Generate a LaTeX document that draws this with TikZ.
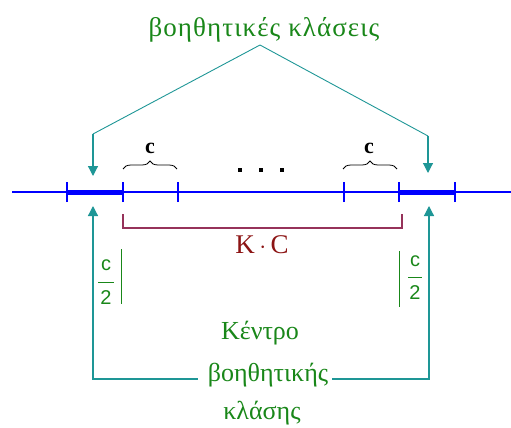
\documentclass[tikz,border=0pt]{standalone}
\usepackage{fontspec}
\setmainfont{Liberation Serif}
\newfontfamily\fracfont{Liberation Sans}
\usetikzlibrary{arrows.meta,decorations.pathreplacing}
\definecolor{tealc}{RGB}{30,150,150}
\definecolor{greenc}{RGB}{25,135,25}
\definecolor{axisblue}{RGB}{0,0,255}
\definecolor{maroonline}{RGB}{150,50,90}
\definecolor{maroontext}{RGB}{140,20,20}
\tikzset{
  lbl/.style={inner sep=0pt, text=greenc, font=\fontsize{26}{28}\selectfont},
  conn/.style={draw=tealc, line width=1.2pt},
  arr/.style={conn, -{Triangle[length=10pt,width=10pt]}},
  tick/.style={draw=axisblue, line width=1.5pt},
  seg/.style={draw=axisblue, line width=5pt},
  frac/.style={inner sep=0pt, text=greenc, font=\fracfont\fontsize{20}{22}\selectfont},
  cl/.style={inner sep=0pt, font=\bfseries\fontsize{22}{24}\selectfont},
  dotc/.style={fill=black, minimum size=4pt, inner sep=0pt},
}
\begin{document}
\begin{tikzpicture}[x=1pt,y=-1pt]
\useasboundingbox (0,0) rectangle (511,428);
% title
\node[lbl, font=\fontsize{27}{29}\selectfont\addfontfeatures{LetterSpace=4}] (title) at (264,30) {βοηθητικές κλάσεις};
\coordinate (apex) at (260,45);
\coordinate (lt) at (93,134);
\coordinate (ltip) at (93,176);
\coordinate (rt) at (428,136);
\coordinate (rtip) at (428,173);
\draw[conn, line width=0.9pt] (apex) -- (lt);
\draw[conn, line width=0.9pt] (apex) -- (rt);
\draw[arr] (lt) -- (ltip);
\draw[arr] (rt) -- (rtip);
% axis
\coordinate (a0) at (12,192);
\coordinate (a1) at (511,192);
\draw[draw=axisblue, line width=1.2pt] (a0) -- (a1);
\coordinate (t1) at (67,192);
\coordinate (t2) at (123,192);
\coordinate (t3) at (178,192);
\coordinate (t4) at (344,192);
\coordinate (t5) at (399,192);
\coordinate (t6) at (455,192);
\draw[seg] (t1) -- (t2);
\draw[seg] (t5) -- (t6);
\foreach \t in {t1,t2,t3,t4,t5,t6}
  \draw[tick] ([yshift=-10pt]\t) -- ([yshift=10pt]\t);
% braces
\coordinate (b1) at (123,169);
\coordinate (b2) at (177,169);
\coordinate (b3) at (343,169);
\coordinate (b4) at (397,169);
\draw[decorate, decoration={brace, amplitude=8pt}, line width=0.8pt] (b1) -- (b2);
\draw[decorate, decoration={brace, amplitude=8pt}, line width=0.8pt] (b3) -- (b4);
\node[cl] (c1) at (150,148) {c};
\node[cl] (c2) at (369,148) {c};
% dots
\node[dotc] (d1) at (240,170) {};
\node[dotc] (d2) at (261,170) {};
\node[dotc] (d3) at (282,170) {};
% K.C bracket
\coordinate (k1) at (123,214);
\coordinate (k2) at (402,214);
\draw[draw=maroonline, line width=1.2pt] (k1) -- ++(0,14) -| (k2);
\node[inner sep=0pt, text=maroontext, font=\fontsize{27}{29}\selectfont] (kc) at (262,245) {Κ\,$\cdot$\,C};
% bottom arrows
\node[lbl] (ct1) at (260,333) {Κέντρο};
\node[lbl] (ct2) at (268,375) {βοηθητικής};
\node[lbl] (ct3) at (262,413) {κλάσης};
\coordinate (lb) at (93,379);
\coordinate (lup) at (93,206);
\coordinate (rb) at (429,379);
\coordinate (rup) at (429,206);
\draw[arr] (ct2.west |- lb) ++(-10,0) -- (lb) -- (lup);
\draw[arr] (ct2.east |- rb) ++(4,0) -- (rb) -- (rup);
% fractions
\node[frac] (fc1) at (106,265) {c};
\coordinate (fb1a) at (98,282);
\coordinate (fb1b) at (114,282);
\draw[draw=greenc, line width=1pt] (fb1a) -- (fb1b);
\node[frac] (f21) at (106,298) {2};
\coordinate (v1a) at (121,249);
\coordinate (v1b) at (121,304);
\draw[draw=greenc, line width=1pt] (v1a) -- (v1b);
\node[frac] (fc2) at (415,261) {c};
\coordinate (fb2a) at (408,277);
\coordinate (fb2b) at (422,277);
\draw[draw=greenc, line width=1pt] (fb2a) -- (fb2b);
\node[frac] (f22) at (415,293) {2};
\coordinate (v2a) at (399,251);
\coordinate (v2b) at (399,307);
\draw[draw=greenc, line width=1pt] (v2a) -- (v2b);
\end{tikzpicture}
\end{document}
